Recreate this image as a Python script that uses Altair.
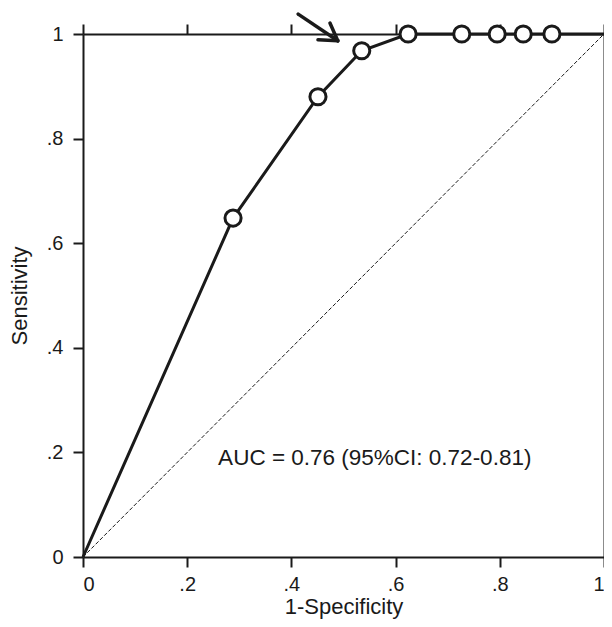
import altair as alt
import pandas as pd

# ROC points (1-specificity, sensitivity)
fpr = [0.0, 0.288, 0.451, 0.535, 0.624, 0.727, 0.795, 0.845, 0.900, 1.0]
tpr = [0.0, 0.648, 0.880, 0.968, 1.0, 1.0, 1.0, 1.0, 1.0, 1.0]
tick_vals = [0, 0.2, 0.4, 0.6, 0.8, 1]
auc_label = "AUC = 0.76 (95%CI: 0.72-0.81)"
auc_pos = [0.56, 0.19]
# arrow annotation segments: x, y, x2, y2
arrow_x = [0.413, 0.451, 0.474]
arrow_y = [1.038, 0.989, 1.021]
arrow_x2 = [0.489, 0.489, 0.489]
arrow_y2 = [0.987, 0.987, 0.987]

FONT = "Liberation Sans"
INK = "#1a1a1a"

roc = pd.DataFrame({"x": fpr, "y": tpr})
pts = roc.iloc[1:-1]
arrow = pd.DataFrame({"x": arrow_x, "y": arrow_y, "x2": arrow_x2, "y2": arrow_y2})
diag = pd.DataFrame({"x": [0.0], "y": [0.0], "x2": [1.0], "y2": [1.0]})
txt = pd.DataFrame({"x": [auc_pos[0]], "y": [auc_pos[1]], "t": [auc_label]})

xs = alt.Scale(domain=[0, 1], nice=False, zero=False)
ys = alt.Scale(domain=[0, 1], nice=False, zero=False)

lab_expr = "datum.value == 0 || datum.value == 1 ? format(datum.value, 'd') : replace(format(datum.value, '.1f'), '0.', '.')"

common_axis = dict(values=tick_vals, grid=False, domainColor=INK, domainWidth=2,
                   tickColor=INK, tickWidth=2, tickSize=10,
                   labelFont=FONT, labelFontSize=20, labelColor=INK,
                   titleFont=FONT, titleFontSize=22, titleFontWeight="normal", titleColor=INK)

x_bottom = alt.Axis(orient="bottom", title="1-Specificity", labelExpr=lab_expr,
                    labelPadding=7, titlePadding=2, **common_axis)
y_left = alt.Axis(orient="left", title="Sensitivity", labelExpr=lab_expr,
                  labelPadding=10, titlePadding=15, **common_axis)
x_top = alt.Axis(orient="top", title=None, labels=False, **common_axis)
y_right = alt.Axis(orient="right", title=None, labels=False, **common_axis)

line = alt.Chart(roc).mark_line(color=INK, strokeWidth=3).encode(
    x=alt.X("x:Q", scale=xs, axis=x_bottom),
    y=alt.Y("y:Q", scale=ys, axis=y_left),
)

frame = alt.Chart(roc).mark_point(opacity=0).encode(
    x=alt.X("x:Q", scale=xs, axis=x_top),
    y=alt.Y("y:Q", scale=ys, axis=y_right),
)

diag_l = alt.Chart(diag).mark_rule(color=INK, strokeWidth=1, strokeDash=[4, 2]).encode(
    x=alt.X("x:Q", scale=xs, axis=None), y=alt.Y("y:Q", scale=ys, axis=None),
    x2="x2:Q", y2="y2:Q",
)

points = alt.Chart(pts).mark_point(shape="circle", size=260, filled=True, fill="white",
                                   stroke=INK, strokeWidth=3, opacity=1).encode(
    x=alt.X("x:Q", scale=xs, axis=None), y=alt.Y("y:Q", scale=ys, axis=None),
)

arrow_l = alt.Chart(arrow).mark_rule(color=INK, strokeWidth=3.5, strokeCap="round").encode(
    x=alt.X("x:Q", scale=xs, axis=None), y=alt.Y("y:Q", scale=ys, axis=None),
    x2="x2:Q", y2="y2:Q",
)

text = alt.Chart(txt).mark_text(font=FONT, fontSize=22.5, color=INK, align="center",
                                baseline="middle").encode(
    x=alt.X("x:Q", scale=xs, axis=None), y=alt.Y("y:Q", scale=ys, axis=None), text="t:N",
)

chart = alt.layer(line, frame, diag_l, arrow_l, points, text).resolve_axis(
    x="independent", y="independent"
).properties(
    width=521, height=523,
    padding={"left": 75, "top": 26, "right": 0, "bottom": 62},
    autosize="none",
).configure_view(stroke=None).configure(background="white")

chart.save("out.html", embed_options={"renderer": "svg", "actions": False})
